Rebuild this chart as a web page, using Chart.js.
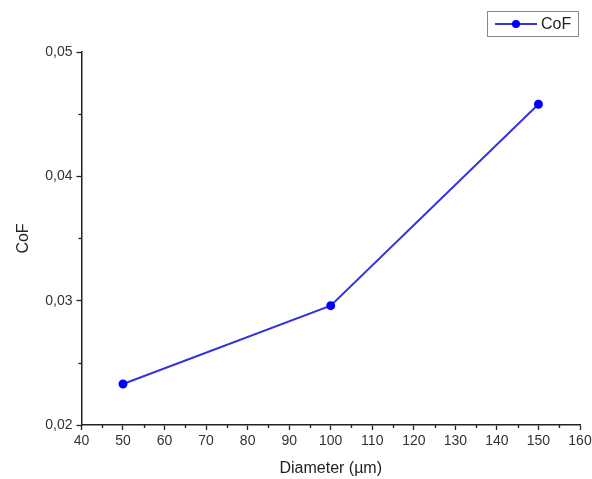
<!DOCTYPE html>
<html>
<head>
<meta charset="utf-8">
<script src="https://cdn.jsdelivr.net/npm/chart.js@4.4.1/dist/chart.umd.min.js"></script>
<style>
html,body{margin:0;padding:0;background:#fff;}
#wrap{width:592px;height:479px;position:relative;}
</style>
</head>
<body>
<div id="wrap"><canvas id="c" width="592" height="479"></canvas></div>
<script>
// Data
const diameters = [50, 100, 150];
const cofValues = [0.0233, 0.0296, 0.0458];
const seriesLabel = 'CoF';
const xTitle = 'Diameter (µm)';
const yTitle = 'CoF';
const xTickValues = [40, 50, 60, 70, 80, 90, 100, 110, 120, 130, 140, 150, 160];
const yTickValues = [0.02, 0.03, 0.04, 0.05];

const FONT = '"Liberation Sans", Arial, sans-serif';
const LINE_COLOR = '#3333dd';
const POINT_COLOR = '#0000ff';

const minorTicks = {
  id: 'minorTicks',
  afterDraw(chart) {
    const ctx = chart.ctx;
    const xs = chart.scales.x, ys = chart.scales.y;
    ctx.save();
    ctx.strokeStyle = '#222';
    ctx.lineWidth = 1.3;
    for (let i = 0; i < xTickValues.length - 1; i++) {
      const v = (xTickValues[i] + xTickValues[i + 1]) / 2;
      const px = Math.round(xs.getPixelForValue(v)) + 0.5;
      ctx.beginPath();
      ctx.moveTo(px, xs.top);
      ctx.lineTo(px, xs.top + 3);
      ctx.stroke();
    }
    for (let i = 0; i < yTickValues.length - 1; i++) {
      const v = (yTickValues[i] + yTickValues[i + 1]) / 2;
      const py = Math.round(ys.getPixelForValue(v)) + 0.5;
      ctx.beginPath();
      ctx.moveTo(ys.right, py);
      ctx.lineTo(ys.right - 3, py);
      ctx.stroke();
    }
    ctx.restore();
  }
};

const boxLegend = {
  id: 'boxLegend',
  afterDraw(chart) {
    const ctx = chart.ctx;
    const ds = chart.data.datasets[0];
    const x0 = 487, y0 = 11, w = 91, h = 25;
    ctx.save();
    ctx.fillStyle = '#fff';
    ctx.fillRect(x0, y0, w, h);
    ctx.strokeStyle = '#888';
    ctx.lineWidth = 1;
    ctx.strokeRect(x0 + 0.5, y0 + 0.5, w, h);
    const cy = y0 + h / 2 + 0.5;
    ctx.strokeStyle = ds.borderColor;
    ctx.lineWidth = 2;
    ctx.beginPath();
    ctx.moveTo(495, cy);
    ctx.lineTo(537, cy);
    ctx.stroke();
    ctx.fillStyle = ds.pointBackgroundColor;
    ctx.beginPath();
    ctx.arc(516, cy, 4, 0, Math.PI * 2);
    ctx.fill();
    ctx.fillStyle = '#222';
    ctx.font = '16px ' + FONT;
    ctx.textBaseline = 'middle';
    ctx.textAlign = 'left';
    ctx.fillText(ds.label, 541, cy + 1);
    ctx.restore();
  }
};

new Chart(document.getElementById('c'), {
  type: 'line',
  data: {
    datasets: [{
      label: seriesLabel,
      data: diameters.map((d, i) => ({ x: d, y: cofValues[i] })),
      borderColor: LINE_COLOR,
      backgroundColor: POINT_COLOR,
      pointBackgroundColor: POINT_COLOR,
      pointBorderColor: POINT_COLOR,
      pointRadius: 3.5,
      borderWidth: 2,
      tension: 0,
      fill: false
    }]
  },
  options: {
    responsive: false,
    animation: false,
    devicePixelRatio: 1,
    layout: { padding: { top: 52, right: 12, left: 14, bottom: 1 } },
    plugins: {
      legend: { display: false },
      tooltip: { enabled: false }
    },
    scales: {
      x: {
        type: 'linear',
        min: 40, max: 160,
        afterBuildTicks(scale) { scale.ticks = xTickValues.map(v => ({ value: v })); },
        afterFit(scale) { scale.paddingRight = 0; },
        grid: { drawOnChartArea: false, drawTicks: true, tickLength: 5, tickColor: '#222', tickWidth: 1.3 },
        border: { display: true, color: '#222', width: 1.5 },
        ticks: { color: '#333', font: { family: FONT, size: 14 }, padding: 3, maxRotation: 0, autoSkip: false },
        title: { display: true, text: xTitle, color: '#222', font: { family: FONT, size: 16 }, padding: { top: 6, bottom: 0 } }
      },
      y: {
        type: 'linear',
        min: 0.02, max: 0.05,
        afterBuildTicks(scale) { scale.ticks = yTickValues.map(v => ({ value: v })); },
        grid: { drawOnChartArea: false, drawTicks: true, tickLength: 5, tickColor: '#222', tickWidth: 1.3 },
        border: { display: true, color: '#222', width: 1.5 },
        ticks: {
          color: '#333', font: { family: FONT, size: 14 }, padding: 4,
          callback: v => v.toFixed(2).replace('.', ',')
        },
        title: { display: true, text: yTitle, color: '#222', font: { family: FONT, size: 16 }, padding: { top: 0, bottom: 8 } }
      }
    }
  },
  plugins: [minorTicks, boxLegend]
});
</script>
</body>
</html>
